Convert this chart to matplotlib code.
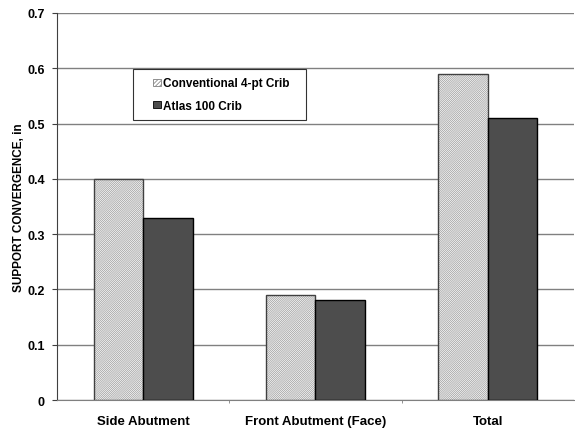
import matplotlib
matplotlib.use('Agg')
import matplotlib.pyplot as plt
import matplotlib.patches as mpatches
from matplotlib.legend_handler import HandlerPatch
import numpy as np

plt.rcParams['font.family'] = ['Liberation Sans', 'DejaVu Sans']
plt.rcParams['font.weight'] = 'bold'
plt.rcParams['hatch.linewidth'] = 0.55

# chart data
categories = ['Side Abutment', 'Front Abutment (Face)', 'Total']
conventional = [0.40, 0.19, 0.59]
atlas = [0.33, 0.18, 0.51]
series_names = ['Conventional 4-pt Crib', 'Atlas 100 Crib']
yticks = [0, 0.1, 0.2, 0.3, 0.4, 0.5, 0.6, 0.7]

HATCH = '/' * 16

fig = plt.figure(figsize=(5.75, 4.31), dpi=100)
ax = fig.add_axes([0.099, 0.0696, 0.899, 0.898])

x = np.arange(len(categories))
w = 0.287

# hatched bars: hatch drawn in light gray, then outline on top
ax.bar(x - w / 2, conventional, w, color='white', edgecolor='#a0a0a0',
       hatch=HATCH, linewidth=0, zorder=3)
ax.bar(x - w / 2, conventional, w, fill=False, edgecolor='#404040',
       linewidth=1.0, zorder=4)
ax.bar(x + w / 2, atlas, w, color='#4d4d4d', edgecolor='black',
       linewidth=1.0, zorder=4)

ax.set_xlim(-0.5, 2.5)
ax.set_ylim(0, 0.7)
ax.set_yticks(yticks)
ax.set_yticklabels(['0'] + [f'{v:.1f}' for v in yticks[1:]])
ax.set_xticks(x)
ax.set_xticklabels(categories)
ax.set_xticks([0.5, 1.5], minor=True)
ax.tick_params(axis='x', which='major', length=0, pad=11, labelsize=9.5)
ax.tick_params(axis='x', which='minor', length=2.5, direction='out',
               color='#808080')
ax.tick_params(axis='y', direction='out', length=3.6, labelsize=9, pad=5,
               color='#404040')
ax.grid(axis='y', color='#808080', linewidth=1.0, zorder=0)
ax.set_axisbelow(True)

for s in ['top', 'right']:
    ax.spines[s].set_visible(False)
ax.spines['left'].set_color('#404040')
ax.spines['bottom'].set_color('#808080')

ax.set_ylabel('SUPPORT CONVERGENCE, in', fontsize=8.5, fontweight='bold',
              labelpad=1.5)


# small square at the right end of the handle area
def small_square(legend, orig_handle, xdescent, ydescent, width, height,
                 fontsize):
    s = 5.2
    return mpatches.Rectangle((width - s - xdescent, (height - s) / 2 - ydescent),
                              s, s)


h1 = mpatches.Patch(facecolor='white', edgecolor='#808080', hatch='/' * 8,
                    linewidth=0.6)
h2 = mpatches.Patch(facecolor='#4d4d4d', edgecolor='black', linewidth=0.6)
leg = ax.legend([h1, h2], series_names, loc='upper left',
                bbox_to_anchor=(0.147, 0.855, 0.3346, 0), mode='expand',
                fontsize=8.5, frameon=True,
                fancybox=False, edgecolor='black', handlelength=1.65,
                handletextpad=0.17, borderpad=0.7, labelspacing=0.9,
                borderaxespad=0,
                handler_map={mpatches.Patch: HandlerPatch(patch_func=small_square)})
leg.get_frame().set_linewidth(0.8)

fig.savefig('out.png', dpi=100)
